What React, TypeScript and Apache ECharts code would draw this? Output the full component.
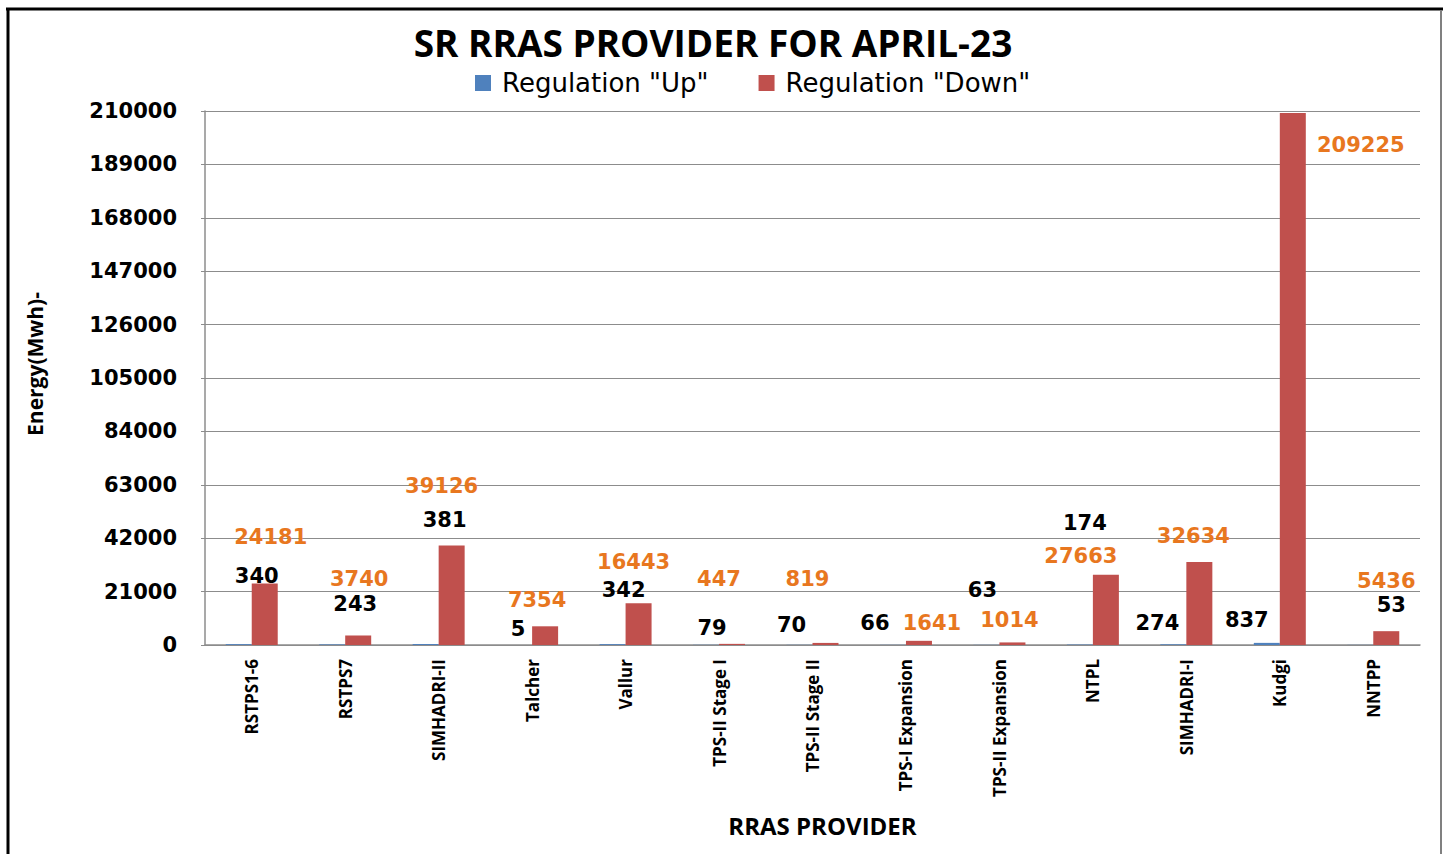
import React, { useEffect, useRef } from "react";
import * as echarts from "echarts";

const categories = [
  "RSTPS1-6", "RSTPS7", "SIMHADRI-II", "Talcher", "Vallur", "TPS-II Stage I",
  "TPS-II Stage II", "TPS-I Expansion", "TPS-II Expansion", "NTPL", "SIMHADRI-I", "Kudgi", "NNTPP",
];
const regulationUp = [340, 243, 381, 5, 342, 79, 70, 66, 63, 174, 274, 837, 53];
const regulationDown = [24181, 3740, 39126, 7354, 16443, 447, 819, 1641, 1014, 27663, 32634, 209225, 5436];
const yTicks = { min: 0, max: 210000, interval: 21000 };

// label placement (layout only, mimicking hand-placed labels)
const upLabelOffsets = [
  [18, -57], [23, -29], [19, -113], [-1, -5], [11, -43], [6, -6], [-8, -9],
  [-18, -11], [-4, -44], [5, -111], [-16, -10], [-20, -12], [31, -29],
];
const downLabelOffsets = [
  [6, -36], [1, -45], [-10, -49], [-8, -15], [-5, -30], [-13, -54], [-18, -53],
  [13, -7], [-3, -11], [-25, -8], [-6, -15], [68, 43], [0, -39],
];

const valueFont = "'DejaVu Sans', Verdana, sans-serif";
const calibriLike = "'Open Sans', 'Noto Sans', sans-serif";

export default function App() {
  const ref = useRef<HTMLDivElement>(null);
  useEffect(() => {
    if (!ref.current) return;
    const chart = echarts.init(ref.current, undefined, { renderer: "svg" });
    const labelBase = {
      show: true,
      position: "top",
      distance: 0,
      fontFamily: valueFont,
      fontWeight: "bold",
      fontSize: 21,
      lineHeight: 22,
    };
    chart.setOption({
      animation: false,
      backgroundColor: "#ffffff",
      title: {
        text: "SR RRAS PROVIDER FOR APRIL-23",
        left: 708,
        top: 19,
        textAlign: "center",
        textStyle: { fontFamily: calibriLike, fontWeight: "bold", fontSize: 37, color: "#000" },
      },
      legend: {
        top: 65,
        left: 470,
        itemWidth: 16,
        itemHeight: 16,
        itemGap: 50,
        icon: "rect",
        textStyle: { fontFamily: valueFont, fontSize: 26, color: "#000", padding: [0, 0, 0, 6] },
        data: ['Regulation "Up"', 'Regulation "Down"'],
      },
      grid: { left: 205, right: 23, top: 111, bottom: 209, containLabel: false },
      xAxis: {
        type: "category",
        data: categories,
        name: "RRAS PROVIDER",
        nameLocation: "middle",
        nameGap: 168,
        nameTextStyle: {
          fontFamily: calibriLike,
          fontWeight: "bold",
          fontSize: 24,
          color: "#000",
          padding: [0, 0, 0, 20],
        },
        axisLine: { lineStyle: { color: "#8c8c8c", width: 1.5 } },
        axisTick: { show: false },
        axisLabel: {
          rotate: 90,
          interval: 0,
          margin: 14,
          fontFamily: calibriLike,
          fontWeight: "bold",
          fontSize: 17,
          color: "#000",
        },
      },
      yAxis: {
        type: "value",
        min: yTicks.min,
        max: yTicks.max,
        interval: yTicks.interval,
        name: "Energy(Mwh)-",
        nameLocation: "middle",
        nameGap: 160,
        nameTextStyle: {
          fontFamily: calibriLike,
          fontWeight: "bold",
          fontSize: 21,
          color: "#000",
          padding: [0, 0, 0, 28],
        },
        axisLine: { show: true, lineStyle: { color: "#8c8c8c", width: 1.5 } },
        axisTick: { show: true, length: 4, lineStyle: { color: "#8c8c8c" } },
        axisLabel: {
          margin: 28,
          fontFamily: valueFont,
          fontWeight: "bold",
          fontSize: 21,
          color: "#000",
          formatter: (v: number) => String(v),
        },
        splitLine: { lineStyle: { color: "#8c8c8c", width: 1.2 } },
      },
      series: [
        {
          name: 'Regulation "Up"',
          type: "bar",
          barWidth: 26,
          barGap: "0%",
          itemStyle: { color: "#4F81BD" },
          label: { ...labelBase, color: "#000" },
          data: regulationUp.map((v, i) => ({ value: v, label: { offset: upLabelOffsets[i] } })),
        },
        {
          name: 'Regulation "Down"',
          type: "bar",
          barWidth: 26,
          barGap: "0%",
          itemStyle: { color: "#C0504D" },
          label: { ...labelBase, color: "#E8771F" },
          data: regulationDown.map((v, i) => ({ value: v, label: { offset: downLabelOffsets[i] } })),
        },
      ],
      graphic: [
        { type: "line", shape: { x1: 6, y1: 9, x2: 1443, y2: 9 }, style: { stroke: "#000", lineWidth: 3 } },
        { type: "line", shape: { x1: 8, y1: 8, x2: 8, y2: 854 }, style: { stroke: "#000", lineWidth: 3 } },
        { type: "line", shape: { x1: 1441, y1: 10, x2: 1441, y2: 854 }, style: { stroke: "#808080", lineWidth: 2 } },
      ],
    });
    return () => chart.dispose();
  }, []);
  return (
    <div
      ref={ref}
      style={{ position: "absolute", left: 0, top: 0, width: 1443, height: 854 }}
    />
  );
}
